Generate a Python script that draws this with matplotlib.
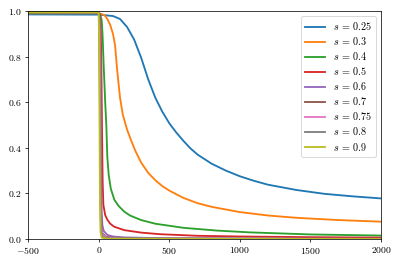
import matplotlib
matplotlib.use("Agg")
import matplotlib.pyplot as plt
from matplotlib.ticker import FuncFormatter

plt.rcParams['mathtext.fontset'] = 'cm'

# values, one series per s
s_labels = ['0.25', '0.3', '0.4', '0.5', '0.6', '0.7', '0.75', '0.8', '0.9']

x_025 = [-500, 0, 100, 150, 200, 250, 300, 350, 400, 450, 500, 550, 600, 650, 700, 800, 900, 1000, 1100, 1200, 1400, 1600, 1800, 2000]
y_025 = [0.985, 0.984, 0.978, 0.965, 0.93, 0.875, 0.795, 0.70, 0.62, 0.558, 0.507, 0.466, 0.43, 0.397, 0.37, 0.33, 0.30, 0.275, 0.255, 0.238, 0.215, 0.198, 0.187, 0.178]

x_03 = [-500, 0, 40, 60, 80, 100, 115, 130, 150, 170, 200, 230, 260, 300, 350, 400, 450, 500, 600, 700, 800, 1000, 1200, 1400, 1700, 2000]
y_03 = [0.99, 0.99, 0.982, 0.965, 0.94, 0.9, 0.85, 0.74, 0.62, 0.545, 0.48, 0.43, 0.385, 0.335, 0.29, 0.258, 0.232, 0.212, 0.18, 0.157, 0.141, 0.118, 0.103, 0.093, 0.083, 0.076]

x_04 = [-500, 0, 10, 20, 26, 35, 45, 53, 60, 70, 85, 110, 140, 180, 221, 300, 400, 600, 835, 1072, 1500, 2000]
y_04 = [0.993, 0.992, 0.985, 0.96, 0.9, 0.75, 0.6, 0.5, 0.36, 0.28, 0.22, 0.172, 0.145, 0.12, 0.103, 0.083, 0.067, 0.049, 0.037, 0.029, 0.02, 0.015]

x_05 = [-500, 0, 8, 14, 18, 22, 27, 32, 45, 60, 79, 108, 179, 300, 434, 700, 1000, 1500, 2000]
y_05 = [0.995, 0.994, 0.98, 0.9, 0.75, 0.5, 0.25, 0.15, 0.105, 0.085, 0.068, 0.054, 0.039, 0.028, 0.021, 0.014, 0.011, 0.008, 0.006]

x_06 = [-500, 0, 6, 12, 16, 20, 25, 35, 60, 100, 180, 400, 1000, 2000]
y_06 = [0.995, 0.994, 0.97, 0.8, 0.4, 0.12, 0.06, 0.035, 0.018, 0.011, 0.007, 0.004, 0.002, 0.001]

x_07 = [-500, 0, 5, 9, 13, 17, 25, 50, 150, 500, 2000]
y_07 = [0.995, 0.994, 0.95, 0.7, 0.3, 0.08, 0.025, 0.01, 0.003, 0.001, 0.0005]

x_075 = [-500, 0, 4, 8, 12, 16, 25, 50, 150, 2000]
y_075 = [0.995, 0.994, 0.95, 0.65, 0.25, 0.06, 0.02, 0.007, 0.002, 0.0003]

x_08 = [-500, 0, 3, 7, 11, 15, 25, 60, 2000]
y_08 = [0.995, 0.994, 0.94, 0.6, 0.2, 0.04, 0.01, 0.003, 0.0002]

x_09 = [-500, -2, 2, 5, 8, 12, 20, 60, 2000]
y_09 = [0.995, 0.994, 0.9, 0.5, 0.15, 0.03, 0.006, 0.001, 0.0]

xs = [x_025, x_03, x_04, x_05, x_06, x_07, x_075, x_08, x_09]
ys = [y_025, y_03, y_04, y_05, y_06, y_07, y_075, y_08, y_09]

fig = plt.figure(figsize=(6.0, 3.97), dpi=66.5)
ax = fig.add_axes([0.0709, 0.0947, 0.8841, 0.8636])

for x, y, lab in zip(xs, ys, s_labels):
    ax.plot(x, y, lw=2.0, label=r'$s \,=\, %s$' % lab)

ax.set_xlim(-500, 2000)
ax.set_ylim(0, 1)
ax.set_xticks([-500, 0, 500, 1000, 1500, 2000])
ax.set_yticks([0.0, 0.2, 0.4, 0.6, 0.8, 1.0])
ax.xaxis.set_major_formatter(FuncFormatter(lambda v, p: '$%d$' % v))
ax.yaxis.set_major_formatter(FuncFormatter(lambda v, p: '$%.1f$' % v))
ax.tick_params(labelsize=10.5)

ax.legend(loc='upper right', fontsize=11, labelspacing=0.3, handlelength=2.0)

fig.savefig('out.png', dpi=66.5)
